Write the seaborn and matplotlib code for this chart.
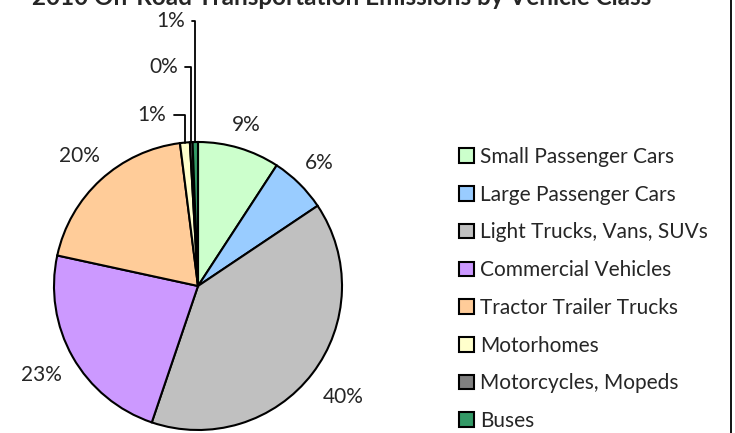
"""On-road emissions by vehicle class - pie chart."""

import matplotlib
matplotlib.use("Agg")
import matplotlib.pyplot as plt
from matplotlib.lines import Line2D
import numpy as np
import seaborn as sns

# data (percent of emissions)
vehicle_classes = ["Small Passenger Cars", "Large Passenger Cars", "Light Trucks, Vans, SUVs",
                   "Commercial Vehicles", "Tractor Trailer Trucks", "Motorhomes",
                   "Motorcycles, Mopeds", "Buses"]
shares = [9.2, 6.4, 39.6, 23.2, 19.6, 1.1, 0.3, 0.6]
slice_colors = ["#CCFFCC", "#99CCFF", "#C0C0C0", "#CC99FF", "#FFCC99", "#FFFFCC", "#808080", "#339966"]
title = "2010 On-Road Transportation Emissions by Vehicle Class"

sns.set_style("white")
plt.rcParams["font.family"] = ["Lato", "DejaVu Sans"]

W, H = 735, 433
fig = plt.figure(figsize=(W / 100, H / 100), dpi=100)

# pie centre ~ (198, 286) px, radius ~144 px
cx, cy, r = 198, 286, 144
ax = fig.add_axes([(cx - r) / W, (H - cy - r) / H, 2 * r / W, 2 * r / H])

wedges, _ = ax.pie(shares, colors=slice_colors, startangle=90, counterclock=False,
                   wedgeprops=dict(edgecolor="black", linewidth=1.5))
ax.set_xlim(-1, 1)
ax.set_ylim(-1, 1)

# percent labels: big slices outside the rim, small slices with leader lines
label_dist = [1.17, 1.2, 1.27, 1.25, 1.22]
small_pos = {5: (-0.22, 1.19), 6: (-0.14, 1.52), 7: (-0.09, 1.84)}
for i, w in enumerate(wedges):
    mid = np.deg2rad((w.theta1 + w.theta2) / 2)
    txt = "%.0f%%" % shares[i]
    if i in small_pos:
        ax.annotate(txt, xy=(np.cos(mid), np.sin(mid)), xytext=small_pos[i],
                    ha="right", va="center", fontsize=15,
                    arrowprops=dict(arrowstyle="-", color="black", lw=1.3,
                                    connectionstyle="angle,angleA=0,angleB=90,rad=0",
                                    relpos=(1, 0.5), shrinkA=3, shrinkB=0))
    else:
        d = label_dist[i]
        ax.text(d * np.cos(mid), d * np.sin(mid), txt, ha="center", va="center", fontsize=15)

leg = ax.legend(wedges, vehicle_classes, loc="upper left",
                bbox_to_anchor=(459 / W, 1 - 147 / H), bbox_transform=fig.transFigure,
                frameon=False, fontsize=15, handlelength=0.7, handleheight=0.7,
                handletextpad=0.3, labelspacing=0.85, borderpad=0, borderaxespad=0)

fig.text(342 / W, 1 - 5 / H, title, ha="center", va="baseline", fontsize=17.5, fontweight="bold")
fig.add_artist(Line2D([731 / W, 731 / W], [0, 1], color="black", lw=1.3))

fig.savefig("out.png", dpi=100)
